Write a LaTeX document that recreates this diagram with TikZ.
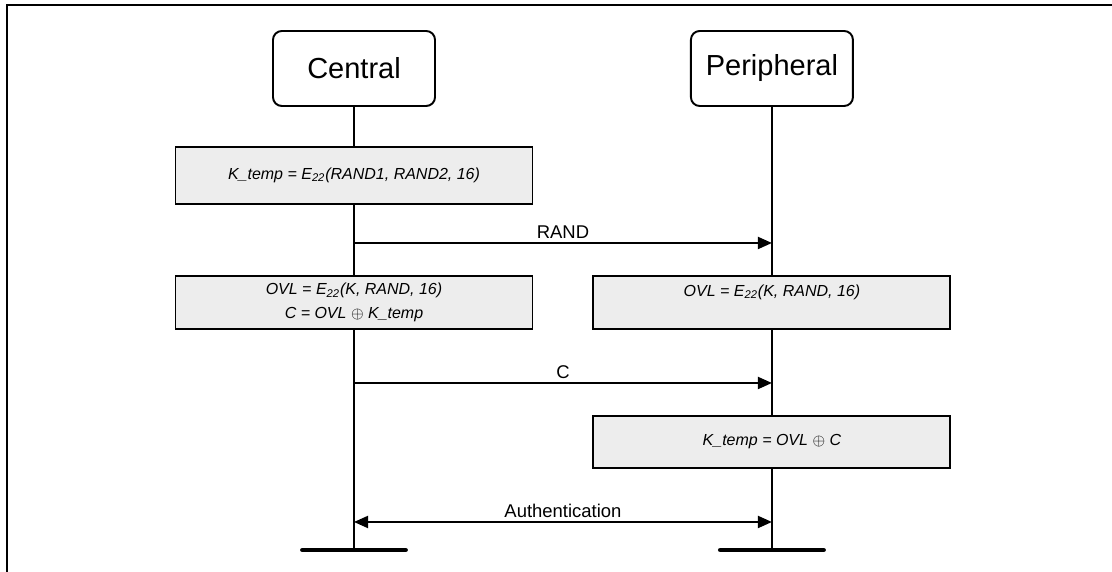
\documentclass[tikz,border=0pt]{standalone}
\usepackage{fontspec}
\setmainfont{Liberation Sans}
\usetikzlibrary{arrows.meta,positioning,calc}

\begin{document}
\begin{tikzpicture}[every node/.style={font=\fontsize{10.5}{12}\selectfont},
  party/.style={draw,line width=1.1pt,rounded corners=5pt,minimum width=3.24cm,minimum height=1.5cm,inner sep=0pt,font=\fontsize{16.5}{19}\selectfont},
  opbox/.style={draw,line width=1.1pt,fill=black!7,minimum width=7.14cm,inner sep=0pt,align=center,font=\fontsize{9.1}{13.6}\selectfont\itshape},
  msg/.style={line width=1.1pt,-{Triangle[length=2.8mm,width=2.4mm]}},
  life/.style={line width=1.1pt},
  bar/.style={line width=2.8pt,line cap=round}]
  \useasboundingbox (0,0) rectangle (22.24,11.44);
  \draw[line width=1.1pt] (0.14,0) |- (22.24,11.34);

  \node[party] (central) at (7.08,10.07) {Central};
  \node[party,right=5.08cm of central] (peripheral) {Peripheral};

  % lifelines
  \coordinate (central-end) at (central |- 0,0.44);
  \coordinate (peripheral-end) at (peripheral |- 0,0.44);
  \foreach \p in {central,peripheral}{
    \draw[life] (\p) -- (\p-end);
    \draw[bar] ([xshift=-1.03cm]\p-end) -- ([xshift=1.03cm]\p-end);}

  % computations
  \node[opbox,minimum height=1.14cm] (ktemp) at (central |- 0,7.93) {K\_temp = E\textsubscript{22}(RAND1, RAND2, 16)};
  \node[opbox,minimum height=1.06cm] (ovlc) at (central |- 0,5.39) {OVL = E\textsubscript{22}(K, RAND, 16)\\C = OVL $\oplus$ K\_temp};
  \node[opbox,minimum height=1.06cm] (ovlp) at (peripheral |- 0,5.39) {OVL = E\textsubscript{22}(K, RAND, 16)\\\mbox{}};
  \node[opbox,minimum height=1.04cm] (kp) at (peripheral |- 0,2.6) {K\_temp = OVL $\oplus$ C};

  % messages
  \foreach \n/\y in {rand/6.58,c/3.78,auth/1.0}{
    \coordinate (\n-c) at (central |- 0,\y);
    \coordinate (\n-p) at (peripheral |- 0,\y);}
  \foreach \n/\lbl in {rand/RAND,c/C}{
    \draw[msg] (\n-c) -- (\n-p) node[midway,above,inner sep=2pt] {\lbl};}
  \draw[msg,{Triangle[length=2.8mm,width=2.4mm]}-{Triangle[length=2.8mm,width=2.4mm]}] (auth-c) -- (auth-p) node[midway,above,inner sep=2pt] {Authentication};
\end{tikzpicture}
\end{document}
